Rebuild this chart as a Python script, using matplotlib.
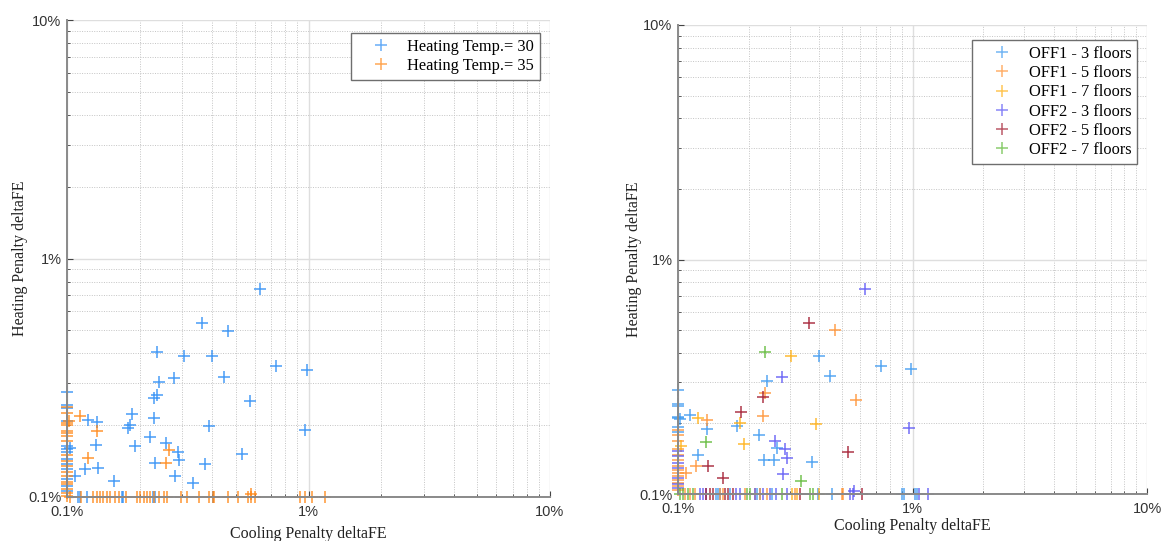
import numpy as np
import matplotlib
matplotlib.use("Agg")
import matplotlib.pyplot as plt
from matplotlib.ticker import FixedLocator, FixedFormatter, LogLocator, NullFormatter

# Penalties in percent; values at 0.1 sit on the lower limit of the log axes.

# ---- Left panel: by heating supply temperature ----
t30_cool = [0.628, 0.363, 0.465, 0.235, 0.304, 0.400, 0.733, 0.984, 0.277, 0.447,
            0.240, 0.236, 0.230, 0.574, 0.186, 0.230, 0.183, 0.179, 0.387, 0.968,
            0.122, 0.133, 0.221, 0.258, 0.132, 0.192, 0.103, 0.287, 0.291, 0.532,
            0.232, 0.371, 0.134, 0.119, 0.108, 0.280, 0.156, 0.334,
            0.1, 0.1, 0.1, 0.1, 0.1, 0.1, 0.1, 0.1, 0.1, 0.1, 0.1, 0.1, 0.1,
            0.111, 0.113, 0.1205, 0.169, 0.171, 0.228, 0.232, 0.401]
t30_heat = [0.748, 0.536, 0.498, 0.404, 0.389, 0.389, 0.353, 0.342, 0.315, 0.320,
            0.304, 0.269, 0.260, 0.252, 0.223, 0.215, 0.201, 0.195, 0.198, 0.191,
            0.211, 0.207, 0.179, 0.169, 0.166, 0.163, 0.160, 0.155, 0.143, 0.151,
            0.139, 0.137, 0.132, 0.131, 0.123, 0.122, 0.117, 0.114,
            0.275, 0.242, 0.236, 0.209, 0.164, 0.159, 0.154, 0.145, 0.138, 0.131,
            0.119, 0.111, 0.106,
            0.1, 0.1, 0.1, 0.1, 0.1, 0.1, 0.1, 0.1]

t35_cool = [0.113, 0.102, 0.133, 0.264, 0.122, 0.257, 0.580,
            0.1, 0.1, 0.1, 0.1, 0.1, 0.1, 0.1, 0.1, 0.1, 0.1, 0.1, 0.1, 0.1, 0.1,
            0.1, 0.1, 0.1, 0.1,
            0.1026, 0.1148, 0.1284, 0.1326, 0.137, 0.1414, 0.146, 0.1507, 0.158,
            0.164, 0.176, 0.195, 0.201, 0.208, 0.2145, 0.2215, 0.2287, 0.240,
            0.252, 0.260, 0.296, 0.315, 0.353, 0.388, 0.401, 0.407, 0.463, 0.51,
            0.561, 0.579, 0.598, 0.923, 0.968, 1.032, 1.175]
t35_heat = [0.218, 0.209, 0.189, 0.157, 0.146, 0.139, 0.103,
            0.239, 0.225, 0.205, 0.200, 0.190, 0.185, 0.180, 0.172, 0.150, 0.142,
            0.135, 0.127, 0.123, 0.116, 0.113, 0.108, 0.104, 0.101,
            0.1, 0.1, 0.1, 0.1, 0.1, 0.1, 0.1, 0.1, 0.1, 0.1, 0.1, 0.1, 0.1, 0.1,
            0.1, 0.1, 0.1, 0.1, 0.1, 0.1, 0.1, 0.1, 0.1, 0.1, 0.1, 0.1, 0.1, 0.1,
            0.1, 0.1, 0.1, 0.1, 0.1, 0.1, 0.1]

# ---- Right panel: by building and number of floors ----
off1_3_cool = [0.400, 0.733, 0.984, 0.447, 0.240, 0.179, 0.221, 0.232, 0.371,
               0.113, 0.102, 0.133, 0.264, 0.122, 0.257,
               0.1, 0.1, 0.1, 0.1, 0.1, 0.1, 0.1,
               0.1459, 0.1483, 0.1507, 0.1663, 0.2163, 0.2234, 0.2506, 0.3963,
               0.4529, 0.901, 0.916, 1.028, 1.044]
off1_3_heat = [0.389, 0.353, 0.342, 0.320, 0.304, 0.195, 0.179, 0.139, 0.137,
               0.218, 0.209, 0.189, 0.157, 0.146, 0.139,
               0.279, 0.243, 0.238, 0.214, 0.211, 0.194, 0.183,
               0.1, 0.1, 0.1, 0.1, 0.1, 0.1, 0.1, 0.1, 0.1, 0.1, 0.1, 0.1, 0.1]

off1_5_cool = [0.465, 0.236, 0.574, 0.230, 0.133, 0.119, 0.108,
               0.1, 0.1, 0.1, 0.1, 0.1, 0.1, 0.1, 0.1, 0.1, 0.1, 0.1, 0.1, 0.1, 0.1,
               0.1068, 0.1122, 0.1179, 0.1507, 0.1557, 0.1928, 0.2128, 0.2234,
               0.2386, 0.3155, 0.4989, 0.507]
off1_5_heat = [0.498, 0.269, 0.252, 0.215, 0.207, 0.131, 0.123,
               0.188, 0.179, 0.168, 0.155, 0.147, 0.140, 0.131, 0.127, 0.123,
               0.119, 0.115, 0.111, 0.108, 0.104,
               0.1, 0.1, 0.1, 0.1, 0.1, 0.1, 0.1, 0.1, 0.1, 0.1, 0.1, 0.1]

off1_7_cool = [0.304, 0.183, 0.387, 0.122, 0.192, 0.103, 0.3055, 0.3206, 0.400]
off1_7_heat = [0.389, 0.201, 0.198, 0.211, 0.163, 0.160, 0.1, 0.1, 0.1]

off2_3_cool = [0.628, 0.277, 0.968, 0.258, 0.287, 0.291, 0.280, 0.565,
               0.1, 0.1, 0.1, 0.1, 0.1, 0.1, 0.1,
               0.1238, 0.128, 0.1322, 0.1776, 0.1835, 0.2128, 0.2307, 0.2466,
               0.263, 0.2904, 0.542, 0.56, 1.061, 1.17]
off2_3_heat = [0.748, 0.315, 0.191, 0.169, 0.155, 0.143, 0.122, 0.103,
               0.152, 0.145, 0.136, 0.129, 0.117, 0.110, 0.106,
               0.1, 0.1, 0.1, 0.1, 0.1, 0.1, 0.1, 0.1, 0.1, 0.1, 0.1, 0.1, 0.1, 0.1]

off2_5_cool = [0.363, 0.230, 0.186, 0.532, 0.134, 0.156,
               0.1322, 0.1366, 0.1412, 0.1585, 0.1637, 0.1718, 0.331, 0.608]
off2_5_heat = [0.536, 0.260, 0.223, 0.151, 0.132, 0.117,
               0.1, 0.1, 0.1, 0.1, 0.1, 0.1, 0.1, 0.1]

off2_7_cool = [0.235, 0.132, 0.334,
               0.1017, 0.105, 0.1104, 0.1159, 0.196, 0.2025, 0.2767, 0.3656, 0.3776]
off2_7_heat = [0.404, 0.166, 0.114,
               0.1, 0.1, 0.1, 0.1, 0.1, 0.1, 0.1, 0.1, 0.1]

left_labels = ["Heating Temp.= 30", "Heating Temp.= 35"]
left_colors = ["#2a8cf5", "#ff8410"]
right_labels = ["OFF1 - 3 floors", "OFF1 - 5 floors", "OFF1 - 7 floors",
                "OFF2 - 3 floors", "OFF2 - 5 floors", "OFF2 - 7 floors"]
right_colors = ["#3a98f0", "#ff9030", "#ffae10", "#5a55f5", "#a0142a", "#5cb833"]

tick_vals = [0.1, 1, 10]
tick_text = ["0.1%", "1%", "10%"]

SERIF = "Liberation Serif"
SANS = "Liberation Sans"

fig = plt.figure(figsize=(11.64, 5.41), dpi=100)
W, H = 1164, 541


def px_axes(x0, y0, x1, y1):
    return fig.add_axes([x0 / W, 1 - y1 / H, (x1 - x0) / W, (y1 - y0) / H])


def style_axes(ax, ylab_x, xlab_y):
    ax.set_xscale("log")
    ax.set_yscale("log")
    ax.set_xlim(0.1, 10)
    ax.set_ylim(0.1, 10)
    for axis in (ax.xaxis, ax.yaxis):
        axis.set_major_locator(FixedLocator(tick_vals))
        axis.set_major_formatter(FixedFormatter(tick_text))
        axis.set_minor_locator(LogLocator(base=10, subs=np.arange(2, 10)))
        axis.set_minor_formatter(NullFormatter())
    ax.grid(True, which="major", color="#dedede", lw=1.0, ls="-")
    ax.grid(True, which="minor", color="#c4c4c4", lw=0.7, ls=(0, (1, 1.5)))
    ax.set_axisbelow(True)
    for s in ("top", "right"):
        ax.spines[s].set_visible(False)
    for s in ("left", "bottom"):
        ax.spines[s].set_color("#8a8a8a")
        ax.spines[s].set_linewidth(1.4)
    ax.tick_params(which="both", direction="in", colors="#444444",
                   labelcolor="#333333", labelsize=10.5)
    ax.tick_params(which="major", length=4)
    ax.tick_params(which="minor", length=2.2)
    ax.tick_params(axis="x", pad=6)
    ax.tick_params(axis="y", pad=4)
    for lab in ax.get_xticklabels() + ax.get_yticklabels():
        lab.set_fontfamily(SANS)
    ax.set_xlabel("Cooling Penalty deltaFE", fontfamily=SERIF, fontsize=11.5,
                  color="#222222")
    ax.set_ylabel("Heating Penalty deltaFE", fontfamily=SERIF, fontsize=11.5,
                  color="#222222")
    ax.xaxis.set_label_coords(0.5, xlab_y)
    ax.yaxis.set_label_coords(ylab_x, 0.5)


def draw_series(ax, cool, heat, color, label):
    ax.plot(cool, heat, linestyle="none", marker="+", markersize=8.5,
            markeredgewidth=1.1, color=color, alpha=0.85, clip_on=False,
            label=label)


def add_legend(ax, anchor):
    leg = ax.legend(loc="upper right", bbox_to_anchor=anchor, borderaxespad=0,
                    fancybox=False, framealpha=1, edgecolor="#6e6e6e",
                    handlelength=3.0, handletextpad=0.1, borderpad=0.35,
                    labelspacing=0.2, prop={"family": SERIF, "size": 11.8})
    leg.get_frame().set_linewidth(1.0)
    for h in leg.legend_handles:
        h.set_alpha(0.7)
    return leg


# Left panel
axL = px_axes(67, 20, 550, 497)
style_axes(axL, -0.08, -0.06)
for cool, heat, c, lab in zip([t30_cool, t35_cool], [t30_heat, t35_heat],
                              left_colors, left_labels):
    draw_series(axL, cool, heat, c, lab)
add_legend(axL, (1 - 10 / 483, 1 - 13 / 477))

# Right panel
axR = px_axes(678, 25, 1147, 494)
style_axes(axR, -0.077, -0.052)
right_cool = [off1_3_cool, off1_5_cool, off1_7_cool, off2_3_cool, off2_5_cool, off2_7_cool]
right_heat = [off1_3_heat, off1_5_heat, off1_7_heat, off2_3_heat, off2_5_heat, off2_7_heat]
for cool, heat, c, lab in zip(right_cool, right_heat, right_colors, right_labels):
    draw_series(axR, cool, heat, c, lab)
add_legend(axR, (1 - 10 / 469, 1 - 15 / 469))

fig.savefig("out.png", dpi=100, facecolor="white")
